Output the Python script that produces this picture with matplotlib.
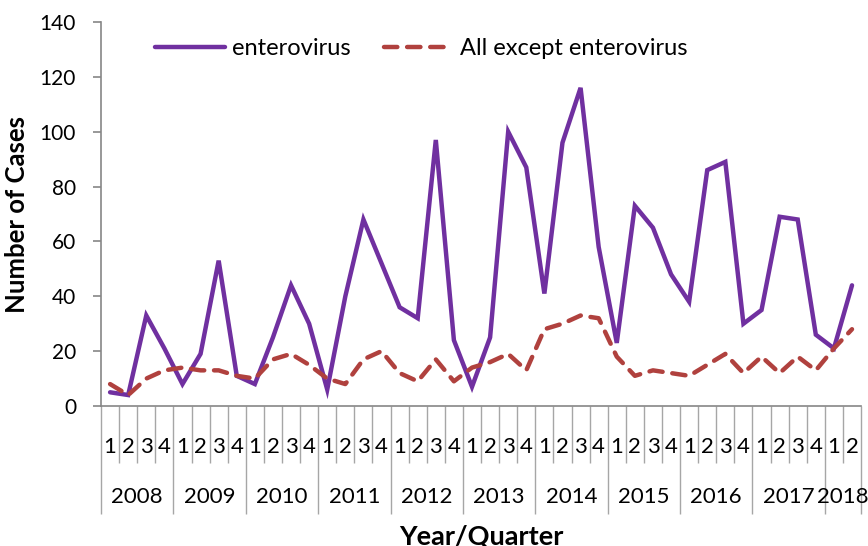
import matplotlib
matplotlib.use("Agg")
import matplotlib.pyplot as plt

plt.rcParams['font.family'] = ['Lato', 'DejaVu Sans']

years = ['2008', '2009', '2010', '2011', '2012', '2013', '2014', '2015', '2016', '2017', '2018']
quarters_per_year = [4, 4, 4, 4, 4, 4, 4, 4, 4, 4, 2]

enterovirus = [5, 4, 33, 21,
               8, 19, 53, 11,
               8, 25, 44, 30,
               6, 40, 68, 52,
               36, 32, 97, 24,
               7, 25, 100, 87,
               41, 96, 116, 58,
               23, 73, 65, 48,
               38, 86, 89, 30,
               35, 69, 68, 26,
               21, 44]

others = [8, 4, 10, 13,
          14, 13, 13, 11,
          10, 17, 19, 15,
          10, 8, 17, 20,
          12, 9, 17, 9,
          14, 16, 19, 13,
          28, 30, 33, 32,
          18, 11, 13, 12,
          11, 15, 19, 12,
          18, 12, 18, 13,
          21, 28]

quarter_labels = []
for n in quarters_per_year:
    quarter_labels += [str(q + 1) for q in range(n)]
x = list(range(len(quarter_labels)))

fig = plt.figure(figsize=(8.68, 5.46), dpi=100)
ax = fig.add_axes([0.1164, 0.2564, 0.8756, 0.7033])

ax.plot(x, enterovirus, color='#7030A0', lw=3.2, solid_capstyle='round',
        solid_joinstyle='miter', label='enterovirus')
ax.plot(x, others, color='#B0413E', lw=3.2, dashes=(3, 2.2), dash_capstyle='round',
        label='All except enterovirus')

ax.set_xlim(-0.5, len(x) - 0.5)
ax.set_ylim(0, 140)
ax.set_yticks(range(0, 141, 20))
ax.tick_params(axis='y', labelsize=15, length=6, color='#868686', width=1.2, pad=12)

for side in ['top', 'right']:
    ax.spines[side].set_visible(False)
for side in ['left', 'bottom']:
    ax.spines[side].set_color('#868686')
    ax.spines[side].set_linewidth(1.2)

# year boundaries as long major ticks, quarter boundaries as shorter minor ticks
year_edges = [-0.5]
for n in quarters_per_year:
    year_edges.append(year_edges[-1] + n)
ax.set_xticks(year_edges)
ax.set_xticks([i - 0.5 for i in range(len(x) + 1)], minor=True)
ax.tick_params(axis='x', which='major', length=78, color='#a6a6a6', width=1, labelbottom=False)
ax.tick_params(axis='x', which='minor', length=41, color='#a6a6a6', width=1, labelbottom=False)

for xi, lab in zip(x, quarter_labels):
    ax.annotate(lab, xy=(xi, 0), xycoords=('data', 'axes fraction'),
                xytext=(0, -29.5), textcoords='offset points',
                ha='center', va='center', fontsize=16)

for i, yr in enumerate(years):
    mid = (year_edges[i] + year_edges[i + 1]) / 2
    ax.annotate(yr, xy=(mid, 0), xycoords=('data', 'axes fraction'),
                xytext=(0, -65.5), textcoords='offset points',
                ha='center', va='center', fontsize=16)

ax.set_ylabel('Number of Cases', fontsize=18.5, fontweight='bold', labelpad=8)
fig.text(0.5 * (0.1164 + 0.992), 0.002, 'Year/Quarter', ha='center', va='baseline',
         fontsize=19.5, fontweight='bold')

ax.legend(loc='center left', bbox_to_anchor=(0.059, 0.93), ncol=2, frameon=False,
          fontsize=17, handlelength=2.95, handletextpad=0.3, columnspacing=1.4,
          borderaxespad=0)

fig.savefig('out.png', dpi=100)
